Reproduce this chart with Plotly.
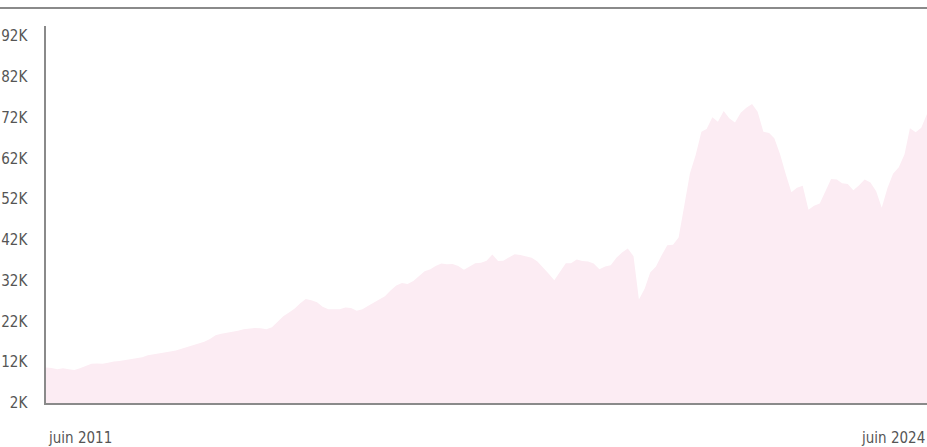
import pandas as pd
import plotly.graph_objects as go

start_month = "2011-06-01"
values_k = [
    10.7, 10.6, 10.3, 10.5, 10.3, 10.1, 10.5, 11.1, 11.6, 11.7,
    11.6, 11.9, 12.2, 12.3, 12.5, 12.8, 13.0, 13.2, 13.7, 13.9,
    14.1, 14.3, 14.6, 14.9, 15.3, 15.7, 16.1, 16.6, 17.0, 17.7,
    18.6, 19.0, 19.2, 19.4, 19.7, 20.1, 20.2, 20.4, 20.3, 20.1,
    20.6, 21.9, 23.3, 24.2, 25.2, 26.4, 27.5, 27.2, 26.7, 25.6,
    25.0, 25.0, 25.0, 25.4, 25.3, 24.6, 25.0, 25.8, 26.6, 27.4,
    28.2, 29.6, 30.8, 31.4, 31.2, 31.9, 33.1, 34.3, 34.8, 35.6,
    36.2, 36.0, 36.1, 35.6, 34.7, 35.5, 36.3, 36.4, 36.9, 38.4,
    36.8, 36.9, 37.8, 38.5, 38.3, 38.0, 37.6, 36.7, 35.3, 33.7,
    32.1, 34.3, 36.3, 36.3, 37.2, 36.8, 36.7, 36.2, 34.8, 35.5,
    35.8, 37.6, 38.9, 39.9, 38.0, 27.4, 30.0, 34.0, 35.5, 38.2,
    40.7, 40.8, 42.6, 50.5, 58.3, 62.8, 68.5, 69.2, 72.1, 71.0,
    73.6, 71.8, 70.8, 73.2, 74.4, 75.3, 73.4, 68.5, 68.2, 66.9,
    63.0, 58.2, 53.7, 54.8, 55.3, 49.4, 50.4, 50.9, 53.7, 56.9,
    56.8, 55.9, 55.7, 54.2, 55.4, 56.8, 56.1, 53.9, 49.9, 54.7,
    58.2, 59.8, 63.0, 69.4, 68.4, 69.5, 72.9,
]
values = [v * 1000 for v in values_k]
dates = pd.date_range(start_month, periods=len(values), freq="MS")

y_ticks = [2000, 12000, 22000, 32000, 42000, 52000, 62000, 72000, 82000, 92000]
y_tick_labels = ["2K", "12K", "22K", "32K", "42K", "52K", "62K", "72K", "82K", "92K"]
x_labels = ["juin 2011", "juin 2024"]

FONT = "Liberation Sans Narrow, DejaVu Sans Condensed, Arial Narrow, sans-serif"
TEXT = "#555555"

fig = go.Figure()
fig.add_trace(go.Scatter(
    x=dates, y=values, mode="lines", fill="tozeroy",
    line=dict(width=0, color="#fcedf4"), fillcolor="#fcecf3",
    hoverinfo="skip", showlegend=False,
))

fig.update_layout(
    width=927, height=447,
    margin=dict(l=46, r=0, t=26, b=44),
    paper_bgcolor="white", plot_bgcolor="white",
    font=dict(family=FONT, size=15, color=TEXT),
    xaxis=dict(
        range=[dates[0], dates[-1]], showgrid=False, zeroline=False,
        showticklabels=False, ticks="", showline=True,
        linecolor="#8a8a8a", linewidth=2,
    ),
    yaxis=dict(
        range=[2000, 94450], tickvals=y_ticks, ticktext=y_tick_labels,
        showgrid=False, zeroline=False, ticks="", showline=True,
        linecolor="#8a8a8a", linewidth=1.5, ticklabelstandoff=14,
        tickfont=dict(family=FONT, size=15, color=TEXT),
    ),
    shapes=[dict(
        type="line", xref="paper", yref="paper",
        x0=-46 / 881, x1=1, y0=(403 - 8) / 377, y1=(403 - 8) / 377,
        line=dict(color="#8a8a8a", width=2),
    )],
    annotations=[
        dict(x=dates[0], y=-0.093, xref="x", yref="paper", text=x_labels[0],
             showarrow=False, xanchor="left", yanchor="middle",
             font=dict(family=FONT, size=15, color=TEXT)),
        dict(x=dates[-1], y=-0.093, xref="x", yref="paper", text=x_labels[1],
             showarrow=False, xanchor="right", yanchor="middle",
             font=dict(family=FONT, size=15, color=TEXT)),
    ],
)

fig.write_html(
    "out.html",
    config={"displayModeBar": False},
    post_script="document.body.style.margin='0';document.body.style.padding='0';",
)
